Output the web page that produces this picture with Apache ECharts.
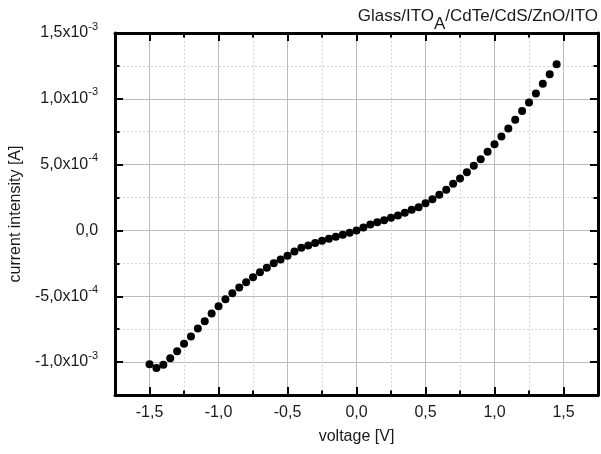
<!DOCTYPE html>
<html><head><meta charset="utf-8">
<script src="https://cdn.jsdelivr.net/npm/echarts@6/dist/echarts.min.js"></script>
<style>html,body{margin:0;padding:0;background:#fff}#c{width:601px;height:454px}</style>
</head><body><div id="c"></div>
<script>
// ---- data ----
const voltage = [
  -1.50, -1.45, -1.40, -1.35, -1.30, -1.25, -1.20, -1.15, -1.10, -1.05,
  -1.00, -0.95, -0.90, -0.85, -0.80, -0.75, -0.70, -0.65, -0.60, -0.55,
  -0.50, -0.45, -0.40, -0.35, -0.30, -0.25, -0.20, -0.15, -0.10, -0.05,
   0.00,  0.05,  0.10,  0.15,  0.20,  0.25,  0.30,  0.35,  0.40,  0.45,
   0.50,  0.55,  0.60,  0.65,  0.70,  0.75,  0.80,  0.85,  0.90,  0.95,
   1.00,  1.05,  1.10,  1.15,  1.20,  1.25,  1.30,  1.35,  1.40,  1.45
];
const currentA = [
  -1.017e-3, -1.045e-3, -1.020e-3, -0.970e-3, -0.917e-3, -0.861e-3, -0.805e-3, -0.745e-3, -0.689e-3, -0.631e-3,
  -0.576e-3, -0.523e-3, -0.477e-3, -0.434e-3, -0.394e-3, -0.356e-3, -0.318e-3, -0.283e-3, -0.250e-3, -0.220e-3,
  -0.192e-3, -0.160e-3, -0.131e-3, -0.114e-3, -0.096e-3, -0.078e-3, -0.063e-3, -0.048e-3, -0.033e-3, -0.017e-3,
   0.000e-3,  0.022e-3,  0.045e-3,  0.063e-3,  0.078e-3,  0.096e-3,  0.114e-3,  0.134e-3,  0.157e-3,  0.177e-3,
   0.207e-3,  0.237e-3,  0.272e-3,  0.310e-3,  0.354e-3,  0.394e-3,  0.442e-3,  0.492e-3,  0.540e-3,  0.598e-3,
   0.654e-3,  0.714e-3,  0.775e-3,  0.841e-3,  0.907e-3,  0.972e-3,  1.040e-3,  1.114e-3,  1.187e-3,  1.263e-3
];
const xTickValues = [-1.5, -1.0, -0.5, 0.0, 0.5, 1.0, 1.5];
const xTickLabels = ['-1,5', '-1,0', '-0,5', '0,0', '0,5', '1,0', '1,5'];
const yTickValues = [-1.0e-3, -5.0e-4, 0, 5.0e-4, 1.0e-3, 1.5e-3];
const yTickMantissa = ['-1,0', '-5,0', '0,0', '5,0', '1,0', '1,5'];
const yTickExponent = ['-3', '-4', '', '-4', '-3', '-3'];
const titleMain = 'Glass/ITO';
const titleSub = 'A';
const titleRest = '/CdTe/CdS/ZnO/ITO';
const xName = 'voltage [V]';
const yName = 'current intensity [A]';

// ---- chart ----
const font = '"Liberation Sans", Arial, sans-serif';
const textColor = '#1a1a1a';
function findIdx(arr, v, eps) { return arr.findIndex(t => Math.abs(t - v) < eps); }
function xFmt(v) { const i = findIdx(xTickValues, v, 1e-9); return i < 0 ? '' : xTickLabels[i]; }
function yFmt(v) {
  const i = findIdx(yTickValues, v, 1e-12);
  if (i < 0) return '';
  if (!yTickExponent[i]) return '{b|' + yTickMantissa[i] + '}';
  return '{b|' + yTickMantissa[i] + 'x10}{e|' + yTickExponent[i] + '}';
}
const frameLine = { show: true, onZero: false, lineStyle: { color: '#000', width: 3 } };
const majorTick = { show: true, inside: true, length: 8, lineStyle: { color: '#000', width: 2 } };
const minorTick = { show: true, splitNumber: 2, length: 4.5, lineStyle: { color: '#000', width: 2 } };
const majorGrid = { show: true, lineStyle: { color: '#bcbcbc', width: 1, type: 'solid' } };
const minorGrid = { show: true, lineStyle: { color: '#d6d6d6', width: 1, type: [2, 2] } };

const xBase = { type: 'value', min: -1.75, max: 1.75, minInterval: 0.5, maxInterval: 0.5, splitNumber: 7,
  axisLine: frameLine, axisTick: majorTick, minorTick: minorTick };
const yBase = { type: 'value', min: -1.25e-3, max: 1.5e-3, minInterval: 5e-4, maxInterval: 5e-4, splitNumber: 5,
  axisLine: frameLine, axisTick: majorTick, minorTick: minorTick };

const chart = echarts.init(document.getElementById('c'), null, { renderer: 'canvas' });
chart.setOption({
  animation: false,
  backgroundColor: '#fff',
  title: {
    text: '{n|' + titleMain + '}{s|' + titleSub + '}{n|' + titleRest + '}',
    right: 3, top: 0, padding: 0,
    textStyle: { fontWeight: 'normal', rich: {
      n: { fontFamily: font, fontSize: 17, fontWeight: 'normal', color: textColor },
      s: { fontFamily: font, fontSize: 17, fontWeight: 'normal', color: textColor, padding: [16, 0, 0, 0] }
    } }
  },
  grid: { left: 115, right: 1.5, top: 33, bottom: 59, containLabel: false },
  xAxis: [
    Object.assign({}, xBase, {
      position: 'bottom',
      name: xName, nameLocation: 'middle', nameGap: 34,
      nameTextStyle: { fontFamily: font, fontSize: 16, color: textColor },
      axisLabel: { show: true, margin: 10, formatter: xFmt, fontFamily: font, fontSize: 16, color: textColor },
      splitLine: majorGrid,
      minorSplitLine: minorGrid
    }),
    Object.assign({}, xBase, {
      position: 'top',
      axisLabel: { show: false }, splitLine: { show: false }, minorSplitLine: { show: false }
    })
  ],
  yAxis: [
    Object.assign({}, yBase, {
      position: 'left',
      name: yName, nameLocation: 'middle', nameGap: 84, nameRotate: 90,
      nameTextStyle: { fontFamily: font, fontSize: 16, color: textColor },
      axisLabel: { show: true, margin: 17, formatter: yFmt, rich: {
        b: { fontFamily: font, fontSize: 16, color: textColor },
        e: { fontFamily: font, fontSize: 11, color: textColor, padding: [0, 0, 13, 0] }
      } },
      splitLine: majorGrid,
      minorSplitLine: minorGrid
    }),
    Object.assign({}, yBase, {
      position: 'right',
      axisLabel: { show: false }, splitLine: { show: false }, minorSplitLine: { show: false }
    })
  ],
  series: [{
    type: 'scatter',
    xAxisIndex: 0, yAxisIndex: 0,
    symbol: 'circle', symbolSize: 8,
    itemStyle: { color: '#000', opacity: 1 },
    data: voltage.map((v, i) => [v, currentA[i]]),
    z: 5
  }]
});
</script></body></html>
